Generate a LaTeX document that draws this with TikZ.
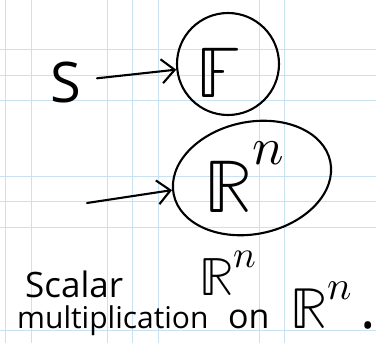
\documentclass[tikz,border=0pt]{standalone}
\usepackage{fontspec}
\usepackage{unicode-math}
\setmainfont{Open Sans}
\setmathfont{Latin Modern Math}
\usetikzlibrary{arrows.meta,positioning,shapes.geometric}
\definecolor{gridblue}{RGB}{200,226,242}

\begin{document}
\begin{tikzpicture}[x=1pt,y=-1pt,
  pen/.style={line width=2.1pt,line cap=round},
  hand/.style={inner sep=0pt,anchor=base west,text depth=0pt},
  barb/.style={pen,-{Straight Barb[length=13pt,width=24pt,line width=2.1pt]}}]
\useasboundingbox (0,0) rectangle (376,343);
% grid
\foreach \x in {5,31,107,132,158,259,284}
  \draw[gridblue,line width=0.8pt] (\x,0)--(\x,343);
\foreach \y in {49,75,100,176,201,227,330}
  \draw[gridblue,line width=0.8pt] (0,\y)--(376,\y);
% field
\node[circle,draw,pen,minimum size=102pt] (fset) at (228,64) {};
\node[hand] (fF) at (196,97) {\fontsize{72}{72}\selectfont$\mathbb{F}$};
\node[hand] (s) at (50,102) {\fontsize{56}{56}\selectfont S};
\draw[barb,shorten <=16pt] (s) -- (fset);
% vectors
\node[ellipse,draw,pen,minimum width=160pt,minimum height=112pt,rotate=12] (rset) at (252,178) {};
\node[hand] (rR) at (204,212) {\fontsize{75}{75}\selectfont$\mathbb{R}^{\raisebox{20pt}{$\scriptstyle n$}}$};
\coordinate (tail) at (87,203);
\draw[barb] (tail) -- (rset);
% caption
\node[hand] (scalar) at (25,297) {\fontsize{35}{35}\selectfont Scalar};
\node[hand] (rn) at (199,295) {\fontsize{54}{54}\selectfont$\mathbb{R}^{\raisebox{8pt}{$\scriptstyle n$}}$};
\node[hand] (mult) at (17,328) {\fontsize{30}{30}\selectfont multiplication};
\node[hand] (on) at (228,328) {\fontsize{34}{34}\selectfont on};
\node[hand] (rnn) at (290,328) {\fontsize{58}{58}\selectfont$\mathbb{R}^{\raisebox{7pt}{$\scriptstyle n$}}$\hspace{8pt}.};
\end{tikzpicture}
\end{document}
